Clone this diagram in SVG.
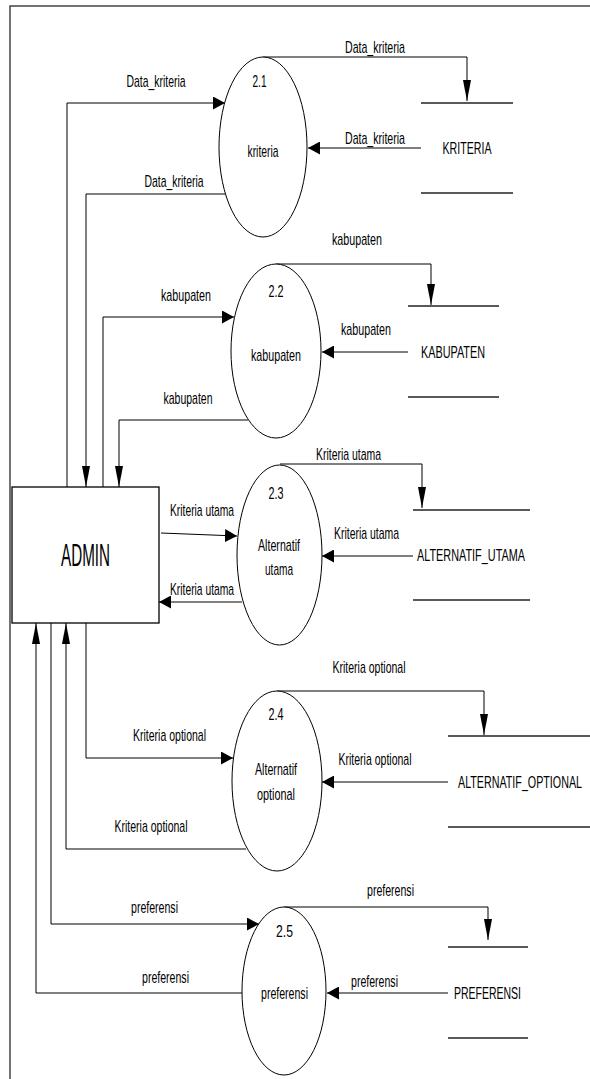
<svg xmlns="http://www.w3.org/2000/svg" width="590" height="1079" viewBox="0 0 590 1079">
<style>
text{font-family:"Liberation Sans Narrow","Liberation Sans",Arial,sans-serif;font-size:17px;fill:#000;text-anchor:middle}
.big{font-size:32px}
.proc{fill:#fff;stroke:#000;stroke-width:1}
.store{stroke:#222;stroke-width:1.5}
.flow{fill:none;stroke:#000;stroke-width:1}
.fh{marker-end:url(#ah)}
.fv{marker-end:url(#av)}
.frame{fill:none;stroke:#444;stroke-width:1.5}
</style>
<defs>
<marker id="ah" markerUnits="userSpaceOnUse" markerWidth="12" markerHeight="13" refX="12" refY="6.5" orient="auto"><path d="M0,0 L12,6.5 L0,13 z" fill="#000"/></marker>
<marker id="av" markerUnits="userSpaceOnUse" markerWidth="21" markerHeight="8" refX="21" refY="4" orient="auto"><path d="M0,0 L21,4 L0,8 z" fill="#000"/></marker>
</defs>
<rect width="590" height="1079" fill="#fff"/>
<path class="frame" d="M10,1079 L10,6 L590,6"/>

<g id="connectors">
<!-- 2.1 -->
<path class="flow fh" d="M67,487 L67,103 L225,103"/>
<path class="flow fv" d="M225,194 L86,194 L86,487"/>
<path class="flow fv" d="M263,57 L467,57 L467,101"/>
<path class="flow fh" d="M421,148 L308,148"/>
<!-- 2.2 -->
<path class="flow fh" d="M103,487 L103,317 L234,317"/>
<path class="flow fv" d="M248,420 L119,420 L119,487"/>
<path class="flow fv" d="M276,264 L431,264 L431,305"/>
<path class="flow fh" d="M408,352 L322,352"/>
<!-- 2.3 -->
<path class="flow fh" d="M161,533 L237,536"/>
<path class="flow fh" d="M242,602 L159,602"/>
<path class="flow fv" d="M280,464 L422,464 L422,508"/>
<path class="flow fh" d="M413,556 L322,556"/>
<!-- 2.4 -->
<path class="flow fh" d="M86,623 L86,758 L233,758"/>
<path class="flow fv" d="M246,849 L66,849 L66,623"/>
<path class="flow fv" d="M277,691 L484,691 L484,735"/>
<path class="flow fh" d="M448,782 L322,782"/>
<!-- 2.5 -->
<path class="flow fh" d="M51,623 L51,924 L259,924"/>
<path class="flow fv" d="M242,993 L36,993 L36,623"/>
<path class="flow fv" d="M284,907 L488,907 L488,940"/>
<path class="flow fh" d="M448,993 L327,993"/>

<g id="flow-labels">
<text x="156" y="87" textLength="59" lengthAdjust="spacingAndGlyphs">Data_kriteria</text>
<text x="174" y="187" textLength="59" lengthAdjust="spacingAndGlyphs">Data_kriteria</text>
<text x="375" y="53" textLength="60" lengthAdjust="spacingAndGlyphs">Data_kriteria</text>
<text x="375" y="144" textLength="60" lengthAdjust="spacingAndGlyphs">Data_kriteria</text>
<text x="186" y="301" textLength="50" lengthAdjust="spacingAndGlyphs">kabupaten</text>
<text x="188" y="404" textLength="49" lengthAdjust="spacingAndGlyphs">kabupaten</text>
<text x="357" y="245" textLength="50" lengthAdjust="spacingAndGlyphs">kabupaten</text>
<text x="366" y="335" textLength="50" lengthAdjust="spacingAndGlyphs">kabupaten</text>
<text x="202" y="516" textLength="64" lengthAdjust="spacingAndGlyphs">Kriteria utama</text>
<text x="202" y="595" textLength="64" lengthAdjust="spacingAndGlyphs">Kriteria utama</text>
<text x="348.5" y="460" textLength="65" lengthAdjust="spacingAndGlyphs">Kriteria utama</text>
<text x="366.5" y="539" textLength="65" lengthAdjust="spacingAndGlyphs">Kriteria utama</text>
<text x="169.5" y="741" textLength="73" lengthAdjust="spacingAndGlyphs">Kriteria optional</text>
<text x="151" y="832" textLength="73" lengthAdjust="spacingAndGlyphs">Kriteria optional</text>
<text x="369" y="673" textLength="73" lengthAdjust="spacingAndGlyphs">Kriteria optional</text>
<text x="375" y="765" textLength="73" lengthAdjust="spacingAndGlyphs">Kriteria optional</text>
<text x="154.5" y="913" textLength="47" lengthAdjust="spacingAndGlyphs">preferensi</text>
<text x="165.5" y="983" textLength="47" lengthAdjust="spacingAndGlyphs">preferensi</text>
<text x="390.5" y="896" textLength="47" lengthAdjust="spacingAndGlyphs">preferensi</text>
<text x="374.5" y="987" textLength="47" lengthAdjust="spacingAndGlyphs">preferensi</text>
</g>
</g>

<g id="admin">
<rect x="12" y="487" width="147" height="136" fill="#fff" stroke="#000" stroke-width="1.3"/>
<text class="big" x="85.5" y="566" textLength="49" lengthAdjust="spacingAndGlyphs">ADMIN</text>
</g>

<g id="p2-1">
<ellipse class="proc" cx="263" cy="147" rx="44" ry="90"/>
<text x="259.5" y="87" textLength="14" lengthAdjust="spacingAndGlyphs">2.1</text>
<text x="263" y="157" textLength="31" lengthAdjust="spacingAndGlyphs">kriteria</text>
</g>
<g id="p2-2">
<ellipse class="proc" cx="276" cy="351" rx="45" ry="87"/>
<text x="276" y="297" textLength="15" lengthAdjust="spacingAndGlyphs">2.2</text>
<text x="276" y="361" textLength="50" lengthAdjust="spacingAndGlyphs">kabupaten</text>
</g>
<g id="p2-3">
<ellipse class="proc" cx="279.5" cy="555" rx="42.5" ry="90"/>
<text x="276" y="499" textLength="15" lengthAdjust="spacingAndGlyphs">2.3</text>
<text x="279" y="551" textLength="42" lengthAdjust="spacingAndGlyphs">Alternatif</text>
<text x="279" y="575" textLength="28" lengthAdjust="spacingAndGlyphs">utama</text>
</g>
<g id="p2-4">
<ellipse class="proc" cx="277" cy="781" rx="45" ry="90"/>
<text x="276" y="720" textLength="15" lengthAdjust="spacingAndGlyphs">2.4</text>
<text x="276" y="775" textLength="42" lengthAdjust="spacingAndGlyphs">Alternatif</text>
<text x="276" y="800" textLength="38" lengthAdjust="spacingAndGlyphs">optional</text>
</g>
<g id="p2-5">
<ellipse class="proc" cx="284" cy="991" rx="42" ry="84"/>
<text x="284.5" y="937" textLength="17" lengthAdjust="spacingAndGlyphs">2.5</text>
<text x="284.5" y="999" textLength="47" lengthAdjust="spacingAndGlyphs">preferensi</text>
</g>

<g id="ds-kriteria">
<line class="store" x1="421" y1="103" x2="513" y2="103"/>
<line class="store" x1="421" y1="193" x2="513" y2="193"/>
<text x="467" y="154" textLength="49" lengthAdjust="spacingAndGlyphs">KRITERIA</text>
</g>
<g id="ds-kabupaten">
<line class="store" x1="408" y1="306" x2="499" y2="306"/>
<line class="store" x1="408" y1="397" x2="499" y2="397"/>
<text x="453" y="358" textLength="64" lengthAdjust="spacingAndGlyphs">KABUPATEN</text>
</g>
<g id="ds-alternatif-utama">
<line class="store" x1="413" y1="510" x2="530" y2="510"/>
<line class="store" x1="413" y1="600" x2="530" y2="600"/>
<text x="471" y="561" textLength="108" lengthAdjust="spacingAndGlyphs">ALTERNATIF_UTAMA</text>
</g>
<g id="ds-alternatif-optional">
<line class="store" x1="448" y1="736" x2="590" y2="736"/>
<line class="store" x1="448" y1="827" x2="590" y2="827"/>
<text x="520" y="788" textLength="124" lengthAdjust="spacingAndGlyphs">ALTERNATIF_OPTIONAL</text>
</g>
<g id="ds-preferensi">
<line class="store" x1="448" y1="947" x2="528" y2="947"/>
<line class="store" x1="448" y1="1038" x2="528" y2="1038"/>
<text x="487.5" y="999" textLength="67" lengthAdjust="spacingAndGlyphs">PREFERENSI</text>
</g>
</svg>
